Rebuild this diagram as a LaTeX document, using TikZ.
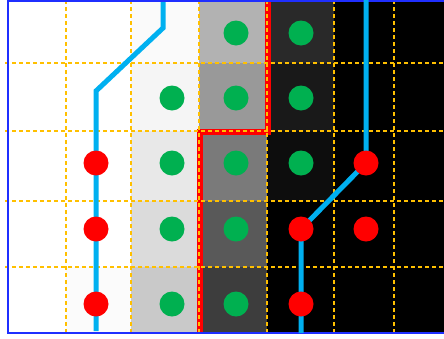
\documentclass[tikz,border=0pt]{standalone}
\definecolor{dotgreen}{HTML}{00B050}
\definecolor{wireblue}{HTML}{00B0F0}
\definecolor{gridyellow}{HTML}{FFC000}
\definecolor{frameblue}{HTML}{1F2FFF}
\pgfdeclarelayer{back}
\pgfdeclarelayer{mid}
\pgfsetlayers{back,mid,main}
\begin{document}
\begin{tikzpicture}[x=1pt,y=-1pt,
  gdot/.style={circle,fill=dotgreen,minimum size=25pt,inner sep=0pt},
  rdot/.style={circle,fill=red,minimum size=25pt,inner sep=0pt},
  gridline/.style={draw=gridyellow,line width=1.4pt,dash pattern=on 4pt off 3pt},
  wire/.style={draw=wireblue,line width=5pt},
  border/.style={draw=red,line width=6pt,line join=miter},
  frame/.style={draw=frameblue,line width=1.5pt}]
\useasboundingbox (0,0) rectangle (444,338);
% dots
\node[gdot] (g31) at (172,98) {};
\node[gdot] (g32) at (172,163) {};
\node[gdot] (g33) at (172,229) {};
\node[gdot] (g34) at (172,304) {};
\node[gdot] (g40) at (236,33) {};
\node[gdot] (g41) at (236,98) {};
\node[gdot] (g42) at (236,163) {};
\node[gdot] (g43) at (236,229) {};
\node[gdot] (g44) at (236,304) {};
\node[gdot] (g50) at (301,33) {};
\node[gdot] (g51) at (301,98) {};
\node[gdot] (g52) at (301,163) {};
\node[rdot] (r22) at (96,163) {};
\node[rdot] (r23) at (96,229) {};
\node[rdot] (r24) at (96,304) {};
\node[rdot] (r53) at (301,229) {};
\node[rdot] (r54) at (301,304) {};
\node[rdot] (r62) at (366,163) {};
\node[rdot] (r63) at (366,229) {};
\coordinate (ltop) at (163,2);
\coordinate (lb1) at (163,28);
\coordinate (lb2) at (96,91);
\coordinate (lend) at (96,331);
\coordinate (rtop) at (366,0);
\coordinate (rend) at (301,333);
\begin{pgfonlayer}{back}
  \fill[white] (0,0) rectangle (444,338);
  % column 2 bottom
  \fill[black!1.5] (66,267) rectangle (131,333);
  % column 3
  \fill[black!2] (131,1) rectangle (199,63);
  \fill[black!4] (131,63) rectangle (199,131);
  \fill[black!9] (131,131) rectangle (199,201);
  \fill[black!14] (131,201) rectangle (199,267);
  \fill[black!21] (131,267) rectangle (199,333);
  % column 4
  \fill[black!30] (199,1) rectangle (267,63);
  \fill[black!40] (199,63) rectangle (267,131);
  \fill[black!52] (199,131) rectangle (267,201);
  \fill[black!65] (199,201) rectangle (267,267);
  \fill[black!76] (199,267) rectangle (267,333);
  % column 5
  \fill[black!84] (267,1) rectangle (334,63);
  \fill[black!90] (267,63) rectangle (334,131);
  \fill[black!95] (267,131) rectangle (334,201);
  \fill[black] (267,201) rectangle (334,333);
  % columns 6-7
  \fill[black] (334,1) rectangle (444,333);
  % red boundary
  \draw[border] (268,0) -- (268,131.5) -- (200,131.5) -- (200,333);
  % grid
  \foreach \x in {66,131,199,267,334,394} \draw[gridline] (\x,0) -- (\x,333);
  \foreach \y in {63,131,201,267} \draw[gridline] (5,\y) -- (444,\y);
  % frame
  \draw[frame] (446,1) -- (8,1) -- (8,333) -- (446,333);
\end{pgfonlayer}
\begin{pgfonlayer}{mid}
  \draw[wire] (ltop) -- (lb1) -- (lb2) -- (r22.center) -- (r23.center) -- (r24.center) -- (lend);
  \draw[wire] (rtop) -- (r62.center) -- (r53.center) -- (r54.center) -- (rend);
\end{pgfonlayer}
\end{tikzpicture}
\end{document}
